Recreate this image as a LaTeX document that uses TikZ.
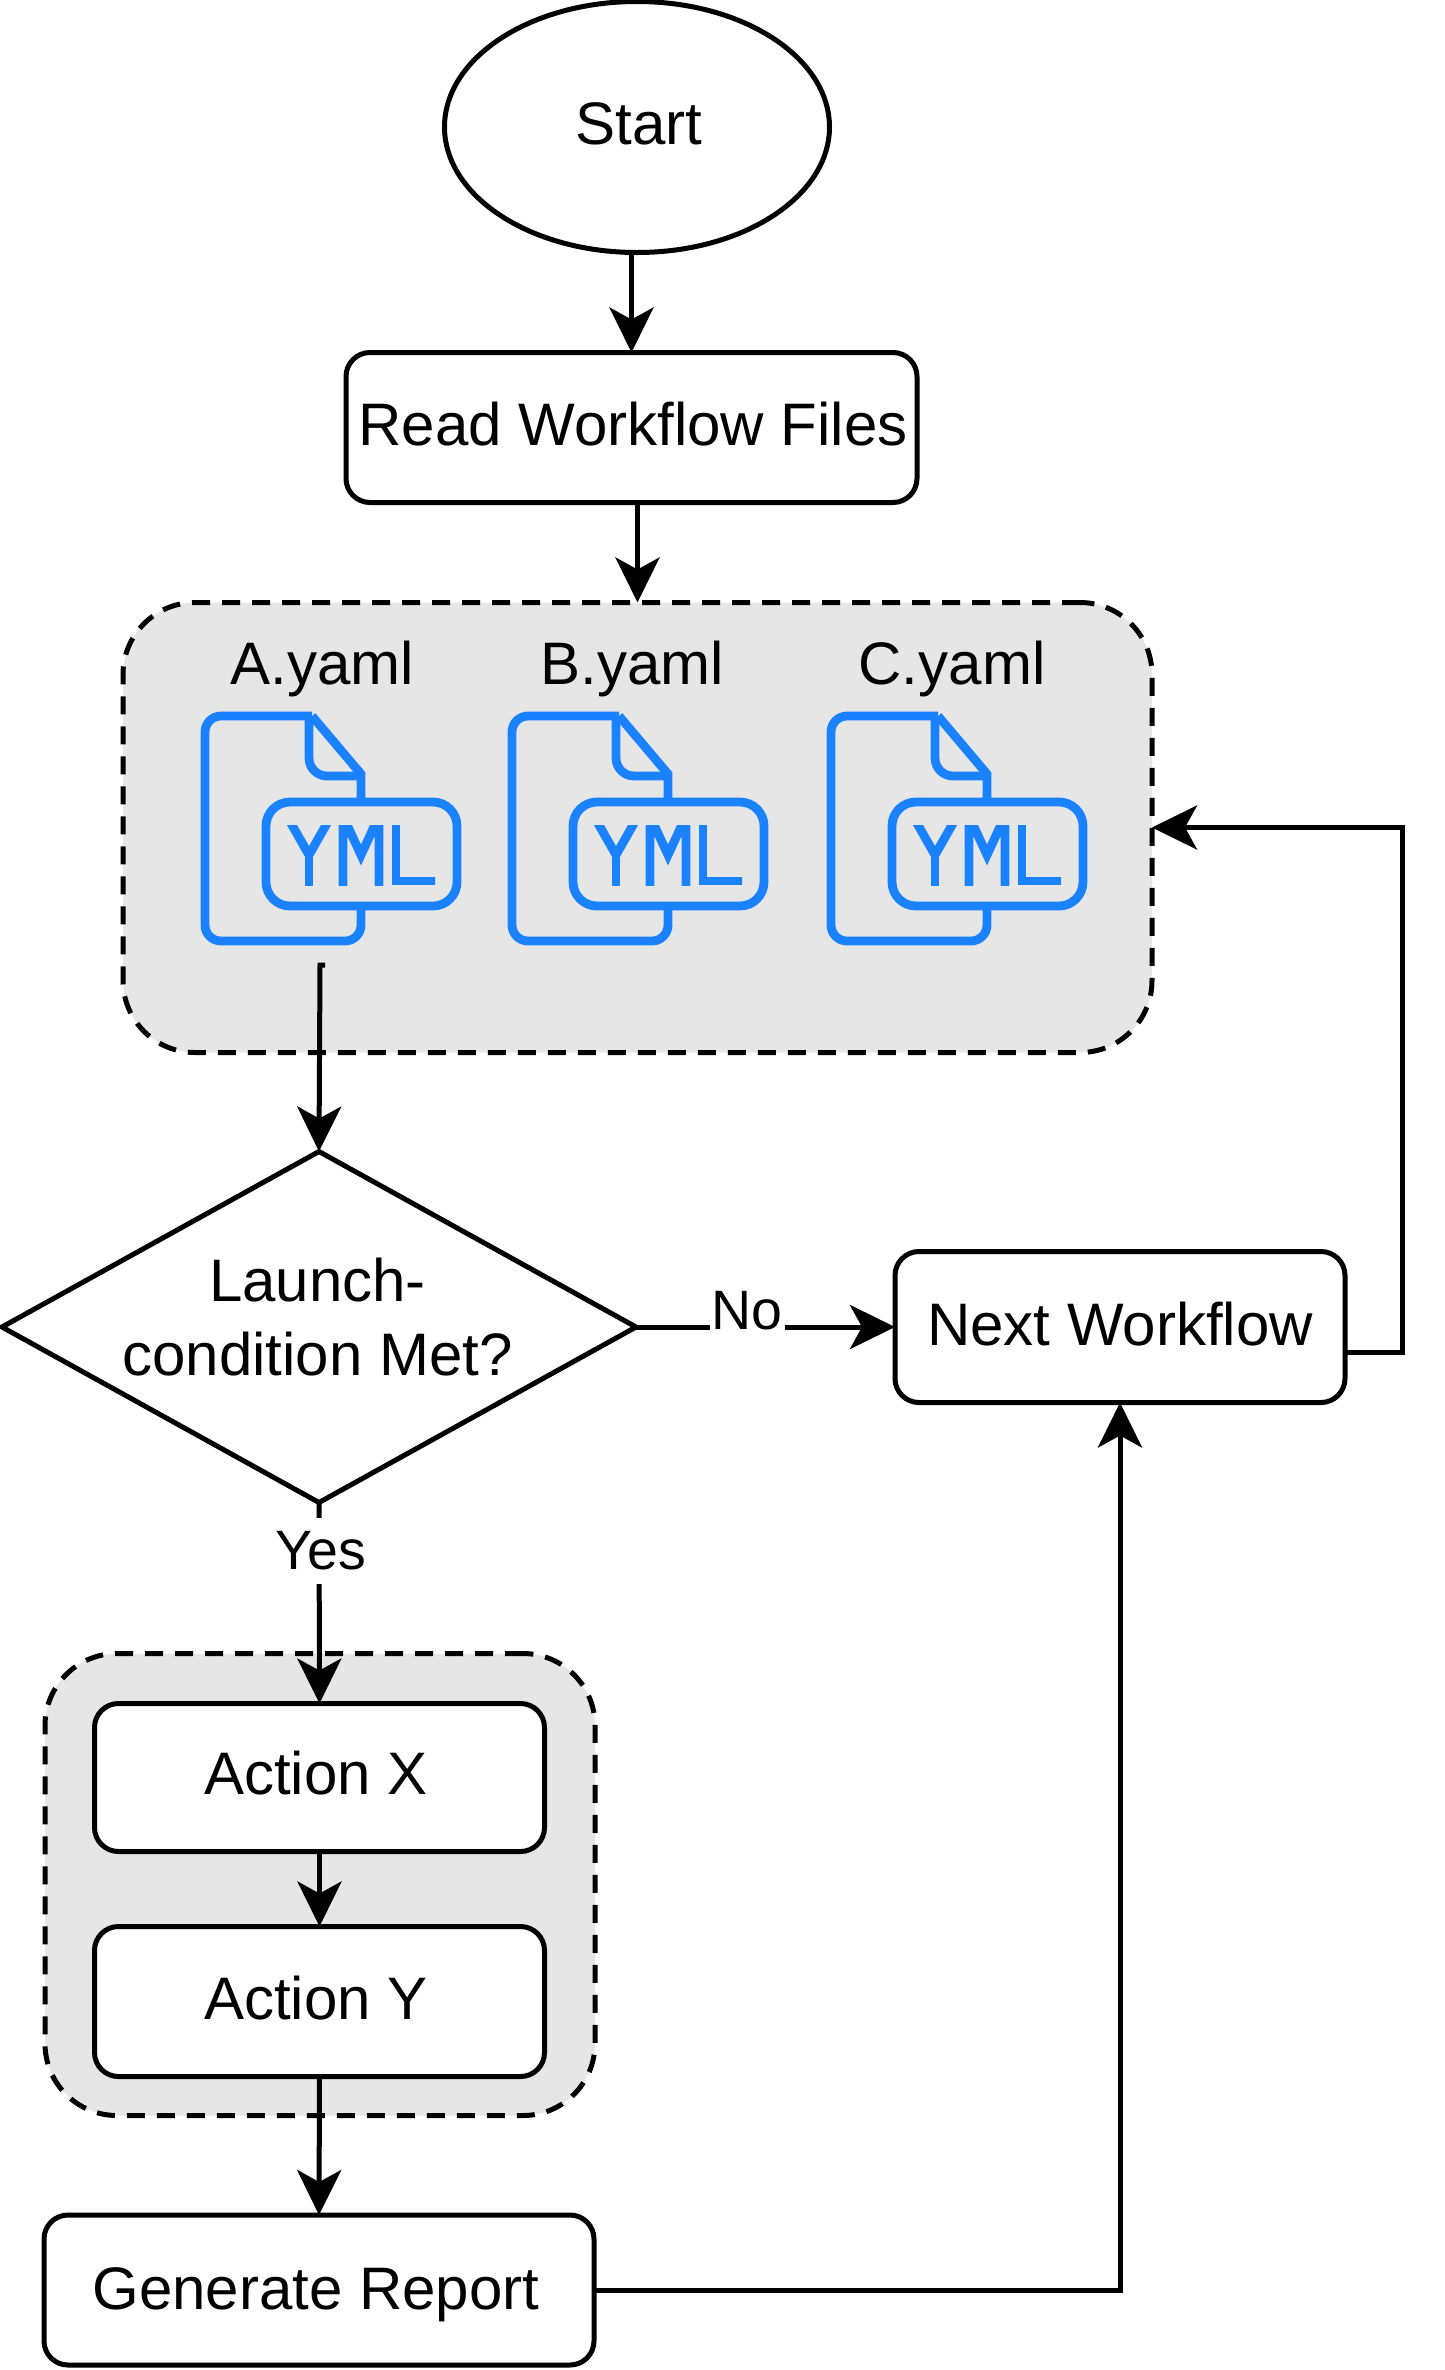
\documentclass[tikz,border=0pt]{standalone}
\usepackage{fontspec}
\setmainfont{Liberation Sans}
\usetikzlibrary{shapes.geometric,arrows.meta,calc}
\definecolor{groupgrey}{HTML}{E6E6E6}
\definecolor{iconblue}{HTML}{1A82FF}
\tikzset{
  x=1pt,y=-1pt,
  lbl/.style={font=\fontsize{60}{74}\selectfont,inner sep=0pt,outer sep=0pt,align=center},
  flowbox/.style={lbl,draw=black,fill=white,line width=5pt,rounded corners=24pt},
  groupbox/.style={draw=black,fill=groupgrey,line width=5pt,rounded corners=72pt,dash pattern=on 18pt off 12pt,inner sep=0pt,outer sep=0pt},
  conn/.style={draw=black,line width=5pt,-{Stealth[length=45pt,width=44pt,inset=12pt]}},
  edgelabel/.style={lbl,fill=white,font=\fontsize{55.5}{66}\selectfont},
  yamlicon/.pic={
    \begin{scope}[draw=iconblue,line width=8.8pt,line join=miter]
      \draw[rounded corners=16pt] (107,0) -- (0,0) -- (0,225) -- (156,225) -- (156,190);
      \draw (156,86) -- (156,58) -- (107,0);
      \draw[rounded corners=18pt] (104,2) -- (104,60) -- (156,60);
      \draw[rounded corners=24pt] (61,86) rectangle (252,190);
      \begin{scope}
        \clip (70,109) rectangle (230,169);
        \draw (81.3,99) -- (104,139) -- (126.7,99);
        \draw (104,139) -- (104,175);
        \draw (138,175) -- (138,100) -- (156,139) -- (174,100) -- (174,175);
        \draw (191,100) -- (191,165) -- (240,165);
      \end{scope}
    \end{scope}
  }
}
\begin{document}
\begin{tikzpicture}
\useasboundingbox (0,0) rectangle (1445,2370);

% groups
\node[groupbox,minimum width=1029pt,minimum height=450pt] (files) at (637.5,827.5) {};
\node[groupbox,minimum width=550pt,minimum height=462pt] (actions) at (320,1884.5) {};

% file labels and icons
\node[lbl] (la) at (322,669) {A.yaml};
\node[lbl] (lb) at (632,669) {B.yaml};
\node[lbl] (lc) at (952,669) {C.yaml};
\pic at (205,716) {yamlicon};
\pic at (512,716) {yamlicon};
\pic at (831,716) {yamlicon};
\coordinate (astub) at (320,965);

% flow nodes
\node[lbl,draw=black,fill=white,line width=5pt,ellipse,minimum width=385pt,minimum height=251pt] (start) at (637,127) {};
\node[lbl] (starttext) at (639,124) {Start};
\node[flowbox,minimum width=571pt,minimum height=150pt] (read) at (631.5,427.5) {};
\node[lbl] (readtext) at (633,424) {Read Workflow Files};
\node[lbl,draw=black,fill=white,line width=5pt,diamond,aspect=1.806,minimum width=634pt,minimum height=351pt] (cond) at (319,1327) {};
\node[lbl] (condtext) at (317.5,1317) {Launch-\\condition Met?};
\node[flowbox,minimum width=450pt,minimum height=151pt] (next) at (1120,1327) {};
\node[lbl] (nexttext) at (1120,1324) {Next Workflow};
\node[flowbox,minimum width=450pt,minimum height=148pt] (actx) at (319.5,1777.5) {};
\node[lbl] (actxtext) at (316,1773.5) {Action X};
\node[flowbox,minimum width=450pt,minimum height=150pt] (acty) at (319.5,2001.5) {};
\node[lbl] (actytext) at (316,1998.5) {Action Y};
\node[flowbox,minimum width=550pt,minimum height=150pt] (report) at (319,2290) {};
\node[lbl] (reporttext) at (316,2295) {Generate Report};

% connectors
\draw[conn] (start.south -| read.north) -- (read.north);
\draw[conn] (read.south -| files.north) -- (files.north);
\draw[conn] ($(astub)+(5,0)$) -- (astub) -- (cond.north);
\draw[conn] (cond.east) -- (next.west);
\draw[conn] (cond.south) -- (actx.north);
\draw[conn] (actx.south) -- (acty.north);
\draw[conn] (acty.south) -- (report.north);
\draw[conn] (report.east) -| (next.south);
\coordinate (nextout) at ($(next.south east)!0.33!(next.north east)$);
\draw[conn] (nextout) -- ++(57,0) |- (files.east);

% edge labels
\node[edgelabel,minimum width=75pt,minimum height=50pt] (no) at (747,1311) {No};
\node[edgelabel,minimum width=90pt,minimum height=66pt] (yes) at (321,1551) {Yes};
\end{tikzpicture}
\end{document}
